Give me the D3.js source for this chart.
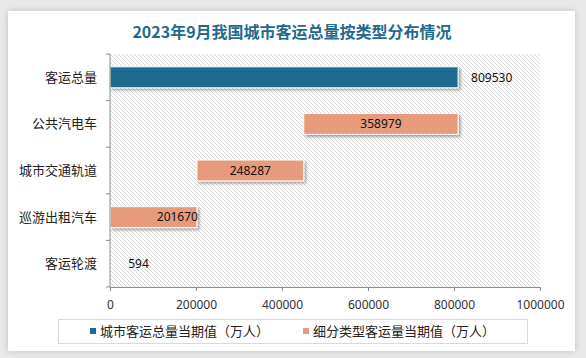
<!DOCTYPE html>
<html><head><meta charset="utf-8">
<script src="https://cdn.jsdelivr.net/npm/d3@7/dist/d3.min.js"></script>
<style>
html,body{margin:0;padding:0;background:#e9e9e9;}
svg{display:block;}
</style></head>
<body>
<svg id="c" width="586" height="358"></svg>
<script>
const title = "2023年9月我国城市客运总量按类型分布情况";
const categories = ["客运总量", "公共汽电车", "城市交通轨道", "巡游出租汽车", "客运轮渡"];
const values = [809530, 358979, 248287, 201670, 594];
const xTicks = [0, 200000, 400000, 600000, 800000, 1000000];
const legendLabels = ["城市客运总量当期值（万人）", "细分类型客运量当期值（万人）"];
const colors = ["#1d6c8f", "#e79b7b"];

const svg = d3.select("#c");
const defs = svg.append("defs");
const pat = defs.append("pattern").attr("id","hatch").attr("patternUnits","userSpaceOnUse")
  .attr("width",4).attr("height",4);
pat.append("rect").attr("width",4).attr("height",4).attr("fill","#ffffff");
pat.append("path").attr("d","M-1,-1 L5,5 M-1,3 L1,5 M3,-1 L5,1").attr("stroke","#d6d6d6").attr("stroke-width",1);
const sh = defs.append("filter").attr("id","sh").attr("x","-10%").attr("y","-30%").attr("width","130%").attr("height","180%");
sh.append("feDropShadow").attr("dx",2).attr("dy",2).attr("stdDeviation",1.5).attr("flood-color","#000").attr("flood-opacity",0.35);
const cs = defs.append("filter").attr("id","cs").attr("x","-5%").attr("y","-5%").attr("width","110%").attr("height","110%");
cs.append("feDropShadow").attr("dx",0).attr("dy",0).attr("stdDeviation",3).attr("flood-color","#000").attr("flood-opacity",0.18);

// card
svg.append("rect").attr("x",8).attr("y",11).attr("width",567).attr("height",340).attr("fill","#fff").attr("filter","url(#cs)");

// title
svg.append("text").attr("x",292).attr("y",38).attr("text-anchor","middle")
  .attr("font-family","'Noto Sans CJK SC'").attr("font-weight","bold").attr("font-size",16)
  .attr("fill","#1f6a8d").text(title);

const L = 110, R = 540, T = 54, B = 287;
const x = d3.scaleLinear().domain([0, 1000000]).range([L, R]);
const y = d3.scaleBand().domain(categories).range([T, B]).paddingInner(0.55).paddingOuter(0.275);

// plot background
svg.append("rect").attr("x",L).attr("y",T).attr("width",R-L).attr("height",B-T).attr("fill","url(#hatch)");

// waterfall ranges
const bars = [];
let cursor = values[0];
values.forEach((v,i)=>{
  if(i===0){ bars.push({c:categories[i], v, s:0, e:v, k:0}); }
  else { bars.push({c:categories[i], v, s:cursor - v, e:cursor, k:1}); cursor -= v; }
});

svg.append("g").selectAll("rect").data(bars).join("rect")
  .attr("x", d=>x(d.s)).attr("y", d=>y(d.c))
  .attr("width", d=>Math.max(x(d.e)-x(d.s), 0.5)).attr("height", y.bandwidth())
  .attr("fill", d=>colors[d.k]).attr("stroke","#fff").attr("stroke-width",1)
  .attr("filter","url(#sh)");

// labels
function lx(d,i){
  const w = x(d.e)-x(d.s);
  if(i===0) return x(d.e)+13;
  if(w < 30) return x(d.e)+18;
  if(i===3) return x(d.e)+1;
  return (x(d.s)+x(d.e))/2;
}
function la(d,i){
  const w = x(d.e)-x(d.s);
  if(i===0 || w < 30) return "start";
  if(i===3) return "end";
  return "middle";
}
svg.append("g").selectAll("text").data(bars).join("text")
  .attr("x", lx)
  .attr("y", d=>y(d.c)+y.bandwidth()/2)
  .attr("dy","0.35em")
  .attr("text-anchor", la)
  .attr("font-family","'Noto Sans', sans-serif").attr("font-size",12).attr("fill","#111")
  .text(d=>d.v);

// y axis
const yAxis = svg.append("g").attr("transform",`translate(${L},0)`);
yAxis.append("line").attr("x1",0).attr("x2",0).attr("y1",T).attr("y2",B).attr("stroke","#8c8c8c");
const bounds = categories.map(c=>y(c) - y.step()*y.paddingInner()/2).concat([B]);
yAxis.selectAll("line.t").data(bounds).join("line").attr("class","t")
  .attr("x1",-4).attr("x2",0).attr("y1",d=>d).attr("y2",d=>d).attr("stroke","#8c8c8c");
yAxis.selectAll("text").data(categories).join("text")
  .attr("x",-13).attr("y",c=>y(c)+y.bandwidth()/2).attr("dy","0.35em").attr("text-anchor","end")
  .attr("font-family","'Noto Sans CJK SC'").attr("font-size",13).attr("fill","#222").text(c=>c);

// x axis
const xAxis = svg.append("g").attr("transform",`translate(0,${B})`)
  .call(d3.axisBottom(x).tickValues(xTicks).tickSize(4).tickFormat(d=>d));
xAxis.select(".domain").attr("stroke","#8c8c8c");
xAxis.selectAll(".tick line").attr("stroke","#8c8c8c");
xAxis.selectAll(".tick text").attr("font-family","'Noto Sans', sans-serif").attr("font-size",12)
  .attr("fill","#333").attr("dy","0").attr("y",22);

// legend
svg.append("rect").attr("x",58.5).attr("y",319.5).attr("width",469).attr("height",24)
  .attr("fill","none").attr("stroke","#d9d9d9");
const lgx = [90, 303];
legendLabels.forEach((t,i)=>{
  svg.append("rect").attr("x",lgx[i]).attr("y",328).attr("width",6).attr("height",6).attr("fill",colors[i]);
  svg.append("text").attr("x",lgx[i]+10).attr("y",331).attr("dy","0.35em")
    .attr("font-family","'Noto Sans CJK SC'").attr("font-size",13).attr("fill","#222").text(t);
});
</script>
</body></html>
